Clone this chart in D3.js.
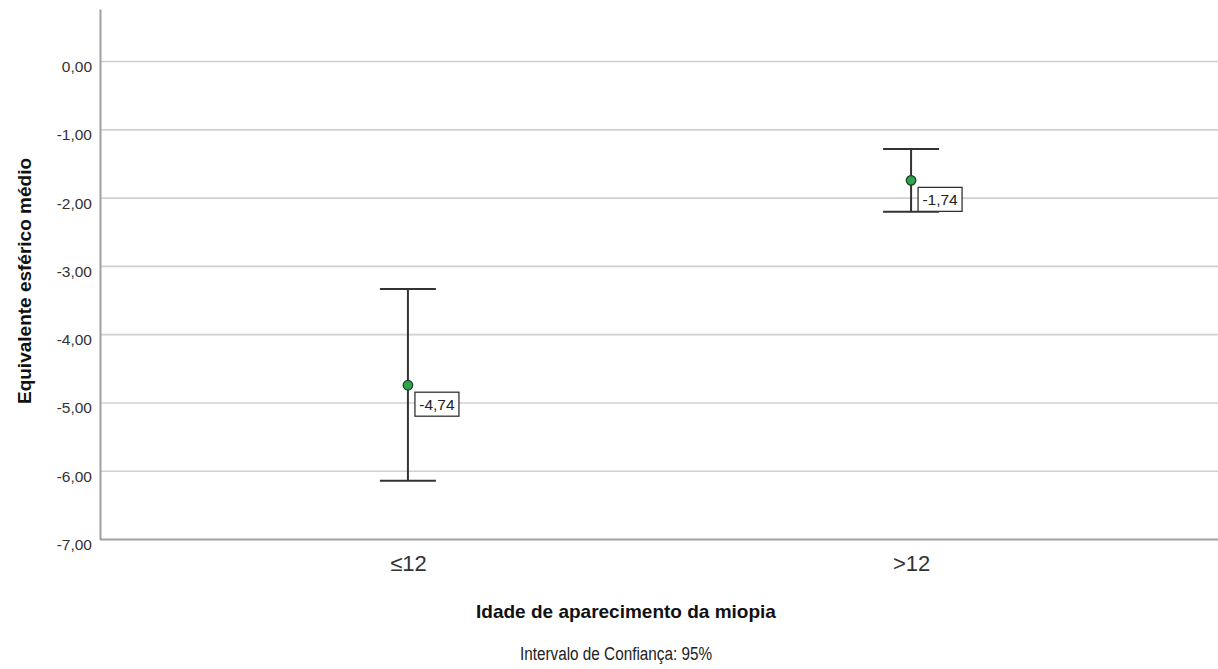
<!DOCTYPE html>
<html>
<head>
<meta charset="utf-8">
<script src="https://cdn.jsdelivr.net/npm/d3@7"></script>
<style>
  html, body { margin: 0; padding: 0; background: #fff; }
  svg { display: block; font-family: Arial, "Liberation Sans", sans-serif; }
</style>
</head>
<body>
<svg id="chart" width="1218" height="669"></svg>
<script>
// Mean spherical equivalent by age of myopia onset, with 95% CI
const categories = ["≤12", ">12"];
const means = [-4.74, -1.74];
const ciLower = [-6.14, -2.20];
const ciUpper = [-3.33, -1.28];
const yTicks = [0, -1, -2, -3, -4, -5, -6, -7];

const svg = d3.select("#chart");
const W = 1218;
const left = 100, right = 1219;
const y0 = 539.5, yTop = 9;

const y = d3.scaleLinear().domain([-7, 0.77]).range([y0, yTop]);
const x = d3.scalePoint().domain(categories).range([left, right]).padding(0.612);

const fmt = v => d3.format(".2f")(v).replace(".", ",").replace("−", "-");

// horizontal gridlines
svg.append("g").selectAll("line")
  .data(yTicks.filter(t => t !== -7))
  .join("line")
  .attr("x1", left).attr("x2", W)
  .attr("y1", d => y(d)).attr("y2", d => y(d))
  .attr("stroke", "#d0d0d0").attr("stroke-width", 1.6);

// y axis
const yAxis = d3.axisLeft(y).tickValues(yTicks).tickSize(0).tickPadding(8).tickFormat(fmt);
const gy = svg.append("g").attr("transform", `translate(${left},0)`).call(yAxis);
gy.select(".domain").attr("stroke", "#a0a0a0").attr("stroke-width", 2);
gy.selectAll("text").attr("font-size", 15.5).attr("fill", "#333")
  .attr("transform", "translate(0,5)");

// x axis
const xAxis = d3.axisBottom(x).tickSize(0).tickPadding(16);
const gx = svg.append("g").attr("transform", `translate(0,${y0})`).call(xAxis);
gx.select(".domain").attr("d", `M${left},0H${W}`).attr("stroke", "#a0a0a0").attr("stroke-width", 2);
gx.selectAll("text").attr("font-size", 22).attr("fill", "#333");

// error bars
const data = categories.map((c, i) => ({ c, m: means[i], lo: ciLower[i], hi: ciUpper[i] }));
const capW = 28;
const eb = svg.append("g").selectAll("g").data(data).join("g");
eb.append("line")
  .attr("x1", d => x(d.c)).attr("x2", d => x(d.c))
  .attr("y1", d => y(d.hi)).attr("y2", d => y(d.lo))
  .attr("stroke", "#333").attr("stroke-width", 2);
eb.append("line")
  .attr("x1", d => x(d.c) - capW).attr("x2", d => x(d.c) + capW)
  .attr("y1", d => y(d.hi)).attr("y2", d => y(d.hi))
  .attr("stroke", "#333").attr("stroke-width", 2);
eb.append("line")
  .attr("x1", d => x(d.c) - capW).attr("x2", d => x(d.c) + capW)
  .attr("y1", d => y(d.lo)).attr("y2", d => y(d.lo))
  .attr("stroke", "#333").attr("stroke-width", 2);
eb.append("circle")
  .attr("cx", d => x(d.c)).attr("cy", d => y(d.m)).attr("r", 4.8)
  .attr("fill", "#2ea44f").attr("stroke", "#1a3a22").attr("stroke-width", 1.2);

// value labels
const lab = eb.append("g").attr("transform", d => `translate(${x(d.c) + 7},${y(d.m) + 7})`);
lab.append("rect").attr("width", 44).attr("height", 24)
  .attr("fill", "#fff").attr("stroke", "#333").attr("stroke-width", 1.3);
lab.append("text").attr("x", 22).attr("y", 17.5).attr("text-anchor", "middle")
  .attr("font-size", 15.5).attr("fill", "#222")
  .text(d => fmt(d.m));

// axis titles
svg.append("text")
  .attr("transform", `translate(31,${281}) rotate(-90)`)
  .attr("text-anchor", "middle").attr("font-size", 19).attr("font-weight", "bold").attr("fill", "#111")
  .text("Equivalente esférico médio");

svg.append("text")
  .attr("x", 626).attr("y", 618).attr("text-anchor", "middle")
  .attr("font-size", 19).attr("font-weight", "bold").attr("fill", "#111")
  .text("Idade de aparecimento da miopia");

// footnote set in a condensed width
svg.append("text")
  .attr("x", 616).attr("y", 660).attr("text-anchor", "middle")
  .attr("font-size", 18).attr("fill", "#222")
  .attr("textLength", 192).attr("lengthAdjust", "spacingAndGlyphs")
  .text("Intervalo de Confiança: 95%");
</script>
</body>
</html>
